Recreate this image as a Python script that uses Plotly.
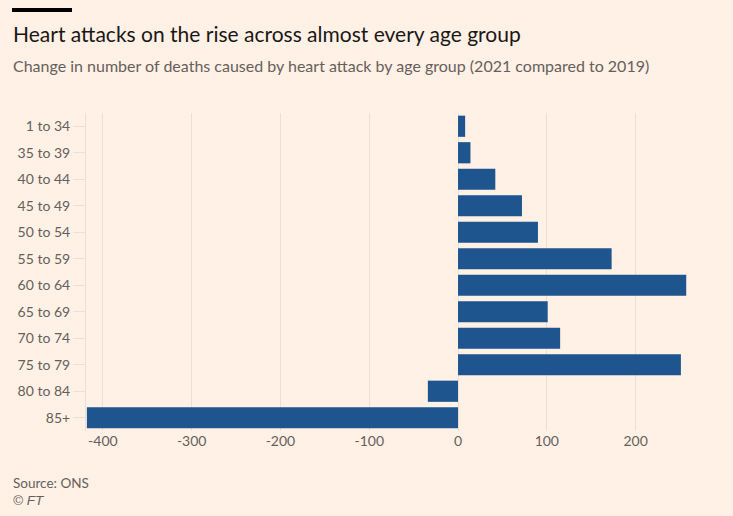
import plotly.graph_objects as go

age_groups = ["1 to 34", "35 to 39", "40 to 44", "45 to 49", "50 to 54", "55 to 59",
              "60 to 64", "65 to 69", "70 to 74", "75 to 79", "80 to 84", "85+"]
change = [8, 14, 42, 72, 90, 173, 257, 101, 115, 251, -34, -418]
x_ticks = [-400, -300, -200, -100, 0, 100, 200]

BG = "#fff1e5"
FONT = "Lato, 'Open Sans', sans-serif"

fig = go.Figure(go.Bar(
    x=change, y=age_groups, orientation="h",
    marker=dict(color="#1e558f", line=dict(width=0)),
    hoverinfo="x+y",
))

PH = 516 - 85 - 113
PW = 602

fig.update_layout(
    width=733, height=516,
    paper_bgcolor=BG, plot_bgcolor=BG,
    margin=dict(l=86, r=45, t=113, b=85),
    bargap=0.2,
    showlegend=False,
    font=dict(family=FONT, color="#66605c", size=14),
    xaxis=dict(
        range=[-419, 259], tickvals=x_ticks, ticktext=[str(v) for v in x_ticks],
        showgrid=True, gridcolor="#eddfd3", gridwidth=1, zeroline=False,
        ticks="", tickfont=dict(size=14, color="#66605c"), fixedrange=True,
    ),
    yaxis=dict(
        categoryorder="array", categoryarray=age_groups, autorange="reversed",
        showgrid=False, zeroline=False, showline=True, linecolor="#eddfd3", linewidth=1,
        ticks="outside", ticklen=12, tickcolor="#eddfd3",
        tickfont=dict(size=14, color="#66605c"), fixedrange=True,
    ),
    shapes=[dict(type="rect", xref="paper", yref="paper",
                 x0=-74/PW, x1=-14/PW, y0=(516-85-12)/PH, y1=(516-85-8)/PH,
                 fillcolor="#000000", line=dict(width=0))],
    annotations=[
        dict(text="Heart attacks on the rise across almost every age group",
             xref="paper", yref="paper", x=-75/PW, y=(516-85-33)/PH,
             xanchor="left", yanchor="middle", showarrow=False,
             font=dict(size=21, color="#1a1817", family=FONT)),
        dict(text="Change in number of deaths caused by heart attack by age group (2021 compared to 2019)",
             xref="paper", yref="paper", x=-75/PW, y=(516-85-66)/PH,
             xanchor="left", yanchor="middle", showarrow=False,
             font=dict(size=16, color="#66605c", family=FONT)),
        dict(text="Source: ONS",
             xref="paper", yref="paper", x=-75/PW, y=(516-85-483)/PH,
             xanchor="left", yanchor="middle", showarrow=False,
             font=dict(size=13.5, color="#66605c", family=FONT)),
        dict(text="<i>© FT</i>",
             xref="paper", yref="paper", x=-75/PW, y=(516-85-500)/PH,
             xanchor="left", yanchor="middle", showarrow=False,
             font=dict(size=13.5, color="#66605c", family="'Liberation Sans', 'DejaVu Sans', sans-serif")),
    ],
)

fig.write_html("out.html", config={"displayModeBar": False},
               post_script="document.body.style.margin='0';")
